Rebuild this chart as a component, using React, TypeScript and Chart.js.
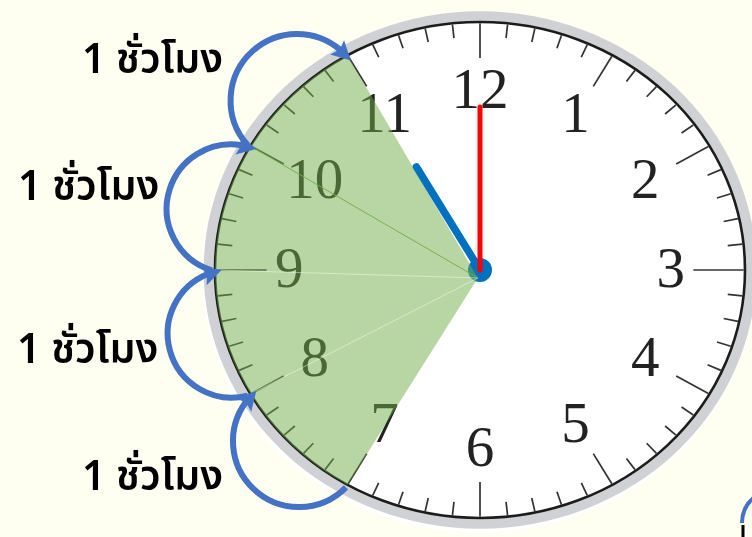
import React, { useEffect, useRef } from "react";
import { Chart, registerables } from "chart.js";

Chart.register(...registerables);

// ---------------- data ----------------
const HOUR_LABELS = ["12", "1", "2", "3", "4", "5", "6", "7", "8", "9", "10", "11"];
const MINUTE_TICK_COUNT = 60;
const HAND_HOUR = 11;
const HAND_MINUTE = 0;
const SHADED_FROM_HOUR = 7;
const SHADED_TO_HOUR = 11;
const ARROW_FROM_HOURS = [7, 8, 9, 10];
const ARROW_LABELS = ["1 ชั่วโมง", "1 ชั่วโมง", "1 ชั่วโมง", "1 ชั่วโมง"];

// ---------------- layout / style ----------------
// data units: clock centre = (0,0), clock rim = 1
const X_MIN = -1.8113;
const X_MAX = 1.0264;
const Y_MIN = -1.0766;
const Y_MAX = 1.0887;
const LABEL_ANCHORS = [
  { x: -1.502, y: -0.887 },
  { x: -1.747, y: -0.375 },
  { x: -1.743, y: 0.282 },
  { x: -1.502, y: 0.794 },
];
const SECTOR_APEX = { x: -0.008, y: -0.032 };
const NUMBER_RADIUS = 0.72;
const MINUTE_HAND_LEN = 0.657;
const HOUR_HAND_LEN = 0.48;

const BG = "#FEFEF1";
const RING = "#D0D1D5";
const RIM = "#1c1c1c";
const TICK = "#333333";
const NUM = "#222222";
const GREEN_FILL = "rgba(112,173,71,0.5)";
const ARROW = "#4472C4";
const RED = "#FF0000";
const BLUE = "#0070C0";

const angleOf = (h: number) => (h / 12) * Math.PI * 2;
const polar = (h: number, f: number) => ({
  x: f * Math.sin(angleOf(h)),
  y: f * Math.cos(angleOf(h)),
});

const clockPlugin = {
  id: "clockFace",
  beforeDraw(chart: any) {
    const { ctx, width, height } = chart;
    ctx.save();
    ctx.fillStyle = BG;
    ctx.fillRect(0, 0, width, height);
    ctx.restore();
  },
  beforeDatasetsDraw(chart: any) {
    const ctx = chart.ctx;
    const xs = chart.scales.x;
    const ys = chart.scales.y;
    const px = (v: number) => xs.getPixelForValue(v);
    const py = (v: number) => ys.getPixelForValue(v);
    const cx = px(0);
    const cy = py(0);
    const rx = px(1) - cx;
    const ry = cy - py(1);
    ctx.save();
    // soft white halo
    ctx.beginPath();
    ctx.ellipse(cx - 1, cy + 3, rx * 1.046, ry * 1.046, 0, 0, Math.PI * 2);
    ctx.fillStyle = "#FFFFFF";
    ctx.fill();
    // grey ring
    ctx.beginPath();
    ctx.ellipse(cx, cy, rx * 1.043, ry * 1.043, 0, 0, Math.PI * 2);
    ctx.fillStyle = RING;
    ctx.fill();
    // face
    ctx.beginPath();
    ctx.ellipse(cx, cy, rx, ry, 0, 0, Math.PI * 2);
    ctx.fillStyle = "#FFFFFF";
    ctx.fill();
    ctx.lineWidth = 2.6;
    ctx.strokeStyle = RIM;
    ctx.stroke();
    // ticks
    ctx.strokeStyle = TICK;
    ctx.lineWidth = 1.7;
    ctx.lineCap = "butt";
    for (let i = 0; i < MINUTE_TICK_COUNT; i++) {
      const h = (i / MINUTE_TICK_COUNT) * 12;
      let len = 0.055;
      if (i % 5 === 0) len = i === 15 || i === 45 ? 0.19 : 0.14;
      const a = polar(h, 0.995);
      const b = polar(h, 0.995 - len);
      ctx.beginPath();
      ctx.moveTo(px(a.x), py(a.y));
      ctx.lineTo(px(b.x), py(b.y));
      ctx.stroke();
    }
    // numbers
    ctx.fillStyle = NUM;
    ctx.font = '57px "Liberation Serif", "DejaVu Serif", serif';
    ctx.textAlign = "center";
    ctx.textBaseline = "middle";
    HOUR_LABELS.forEach((lab, i) => {
      const p = polar(i, NUMBER_RADIUS);
      ctx.fillText(lab, px(p.x), py(p.y) + 2);
    });
    ctx.restore();
  },
  afterDatasetsDraw(chart: any) {
    const ctx = chart.ctx;
    const xs = chart.scales.x;
    const ys = chart.scales.y;
    const px = (v: number) => xs.getPixelForValue(v);
    const py = (v: number) => ys.getPixelForValue(v);
    const cx = px(0);
    const cy = py(0);
    const rx = px(1) - cx;
    const ry = cy - py(1);
    ctx.save();
    // shaded sector
    const ax = px(SECTOR_APEX.x);
    const ay = py(SECTOR_APEX.y);
    const t0 = angleOf(SHADED_TO_HOUR) - Math.PI / 2;
    const t1 = angleOf(SHADED_FROM_HOUR) - Math.PI / 2;
    const pTo = polar(SHADED_TO_HOUR, 1);
    ctx.beginPath();
    ctx.moveTo(ax, ay);
    ctx.lineTo(px(pTo.x), py(pTo.y));
    ctx.ellipse(cx, cy, rx, ry, 0, t0, t1, true);
    ctx.closePath();
    ctx.fillStyle = GREEN_FILL;
    ctx.fill();
    // seams between the sub-triangles
    for (let h = SHADED_FROM_HOUR + 1; h < SHADED_TO_HOUR; h++) {
      const p = polar(h, 1);
      ctx.beginPath();
      ctx.moveTo(ax, ay);
      ctx.lineTo(px(p.x), py(p.y));
      ctx.lineWidth = 1;
      ctx.strokeStyle = h === SHADED_TO_HOUR - 1 ? "rgba(112,173,71,0.9)" : "rgba(255,255,255,0.45)";
      ctx.stroke();
    }
    // arrows
    ARROW_FROM_HOURS.forEach((h) => {
      const s0 = polar(h, 1.012);
      const e0 = polar(h + 1, 0.975);
      const sx = px(s0.x), sy = py(s0.y);
      const ex = px(e0.x), ey = py(e0.y);
      const mx = (sx + ex) / 2, my = (sy + ey) / 2;
      const nl = Math.hypot(mx - cx, my - cy);
      const nx = (mx - cx) / nl, ny = (my - cy) / nl;
      const ccx = mx + nx * 3, ccy = my + ny * 3;
      const r = (Math.hypot(sx - ccx, sy - ccy) + Math.hypot(ex - ccx, ey - ccy)) / 2;
      const a0 = Math.atan2(sy - ccy, sx - ccx);
      const a1 = Math.atan2(ey - ccy, ex - ccx);
      let sweepCW = a1 - a0;
      while (sweepCW < 0) sweepCW += Math.PI * 2;
      const midCW = a0 + sweepCW / 2;
      const dCW = Math.hypot(ccx + r * Math.cos(midCW) - cx, ccy + r * Math.sin(midCW) - cy);
      const midCCW = midCW + Math.PI;
      const dCCW = Math.hypot(ccx + r * Math.cos(midCCW) - cx, ccy + r * Math.sin(midCCW) - cy);
      const cw = dCW > dCCW;
      const headLen = 19;
      const dA = headLen / r;
      const aBase = cw ? a1 - dA : a1 + dA;
      ctx.beginPath();
      ctx.arc(ccx, ccy, r, a0, cw ? aBase + 0.06 : aBase - 0.06, !cw);
      ctx.lineWidth = 6;
      ctx.strokeStyle = ARROW;
      ctx.lineCap = "butt";
      ctx.stroke();
      const bx = ccx + r * Math.cos(aBase);
      const by = ccy + r * Math.sin(aBase);
      const dx = ex - bx, dy = ey - by;
      const dl = Math.hypot(dx, dy);
      const ux = dx / dl, uy = dy / dl;
      const hw = 10;
      ctx.beginPath();
      ctx.moveTo(ex, ey);
      ctx.lineTo(bx - uy * hw, by + ux * hw);
      ctx.lineTo(bx + ux * 3.5, by + uy * 3.5);
      ctx.lineTo(bx + uy * hw, by - ux * hw);
      ctx.closePath();
      ctx.fillStyle = ARROW;
      ctx.fill();
    });
    // labels
    ctx.fillStyle = "#000000";
    ctx.font = '600 41px "Noto Sans Thai", "Noto Sans Thai UI", Tahoma, "Noto Sans", "DejaVu Sans", sans-serif';
    ctx.textAlign = "left";
    ctx.textBaseline = "alphabetic";
    ARROW_LABELS.forEach((t, i) => {
      const a = LABEL_ANCHORS[i];
      ctx.fillText(t, px(a.x), py(a.y));
    });
    // fragment of neighbouring drawing (bottom-right edge)
    ctx.beginPath();
    ctx.arc(775, 523, 33, Math.PI, Math.PI * 1.3, false);
    ctx.lineWidth = 4;
    ctx.strokeStyle = ARROW;
    ctx.stroke();
    ctx.beginPath();
    ctx.moveTo(743, 525);
    ctx.lineTo(743, 537);
    ctx.lineWidth = 3;
    ctx.strokeStyle = "#000";
    ctx.stroke();
    ctx.restore();
  },
};

export default function App() {
  const ref = useRef<HTMLCanvasElement | null>(null);
  useEffect(() => {
    if (!ref.current) return;
    const minP = polar((HAND_MINUTE / 60) * 12, MINUTE_HAND_LEN);
    const hourP = polar((HAND_HOUR % 12) + HAND_MINUTE / 60, HOUR_HAND_LEN);
    const chart = new Chart(ref.current, {
      type: "scatter",
      data: {
        datasets: [
          {
            data: [{ x: 0, y: 0 }, minP],
            showLine: true,
            borderColor: RED,
            borderWidth: 5,
            borderCapStyle: "round",
            pointRadius: 0,
          } as any,
          {
            data: [{ x: 0, y: 0 }, hourP],
            showLine: true,
            borderColor: BLUE,
            borderWidth: 7.5,
            borderCapStyle: "round",
            pointRadius: 0,
          } as any,
          {
            data: [{ x: 0, y: 0 }],
            pointRadius: 12,
            pointBackgroundColor: BLUE,
            pointBorderWidth: 0,
            backgroundColor: BLUE,
            borderColor: BLUE,
          } as any,
        ],
      },
      options: {
        animation: false,
        responsive: true,
        maintainAspectRatio: false,
        events: [],
        layout: { padding: 0, autoPadding: false },
        plugins: { legend: { display: false }, tooltip: { enabled: false } },
        scales: {
          x: { type: "linear", min: X_MIN, max: X_MAX, display: false },
          y: { type: "linear", min: Y_MIN, max: Y_MAX, display: false },
        },
      },
      plugins: [clockPlugin],
    });
    return () => chart.destroy();
  }, []);
  return (
    <div style={{ position: "fixed", left: 0, top: 0, width: 752, height: 537, background: BG }}>
      <canvas ref={ref} />
    </div>
  );
}
